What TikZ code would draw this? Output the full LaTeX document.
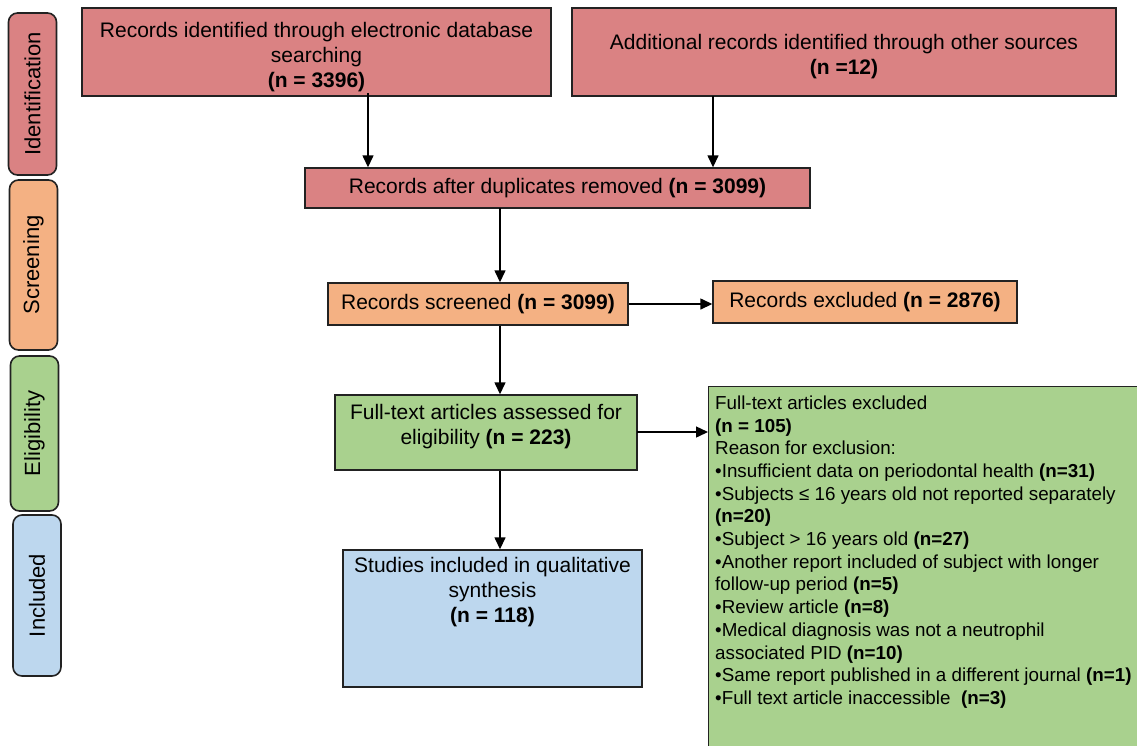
\documentclass[tikz,border=0pt]{standalone}
\usepackage{fontspec}
\setmainfont{Liberation Sans}
\usetikzlibrary{arrows.meta}
\definecolor{cred}{HTML}{DA8283}
\definecolor{corange}{HTML}{F4B183}
\definecolor{cgreen}{HTML}{A9D18E}
\definecolor{cblue}{HTML}{BDD7EE}
\definecolor{cline}{HTML}{222222}
\newcommand{\toppad}[1]{\rule{0pt}{#1}}
\newcommand{\botpad}[1]{\rule[-#1]{0pt}{#1}}
\tikzset{
  box/.style={draw=cline, line width=1.4pt, rectangle, inner sep=0pt, align=center,
    font=\fontsize{21}{25}\selectfont},
  phase/.style={draw=cline, line width=1.6pt, rounded corners=9pt, rotate=90, inner sep=0pt,
    minimum height=48pt, font=\fontsize{22}{25}\selectfont},
  arr/.style={draw=black, line width=1.4pt, -{Triangle[length=12pt,width=11pt]}},
}
\begin{document}
\begin{tikzpicture}[x=1pt,y=-1pt]
\useasboundingbox (0,0) rectangle (1137,745);
\clip (0,0) rectangle (1137,745);
\fill[white] (0,0) rectangle (1137,745);
% phase labels
\node[phase, fill=cred, minimum width=162pt] (pid) at (32.5,94) {Identification};
\node[phase, fill=corange, minimum width=170pt] (psc) at (33.5,265) {Screening};
\node[phase, fill=cgreen, minimum width=155pt] (pel) at (34.5,433.5) {Eligibility};
\node[phase, fill=cblue, minimum width=161pt] (pin) at (37,595.5) {Included};
% boxes
\node[box, fill=cred, minimum width=469pt, minimum height=88pt] (b1) at (316.5,52)
  {\toppad{24.5pt}Records identified through electronic database\\searching\\\textbf{(n = 3396)}};
\node[box, fill=cred, minimum width=544pt, minimum height=88pt] (b2) at (844,52)
  {\toppad{24.5pt}Additional records identified through other sources\\\textbf{(n =12)}};
\node[box, fill=cred, minimum width=505pt, minimum height=40pt] (b3) at (557.5,188)
  {Records after duplicates removed \textbf{(n = 3099)}};
\node[box, fill=corange, minimum width=300pt, minimum height=42pt] (b4) at (478,304)
  {Records screened \textbf{(n = 3099)}};
\node[box, fill=corange, minimum width=304pt, minimum height=42pt] (b5) at (865,302)
  {Records excluded \textbf{(n = 2876)}};
\node[box, fill=cgreen, minimum width=302pt, minimum height=75pt] (b6) at (486,432.5)
  {Full-text articles assessed for\\eligibility \textbf{(n = 223)}\botpad{15.5pt}};
\node[box, fill=cblue, minimum width=299pt, minimum height=137pt] (b7) at (492.5,618.5)
  {Studies included in qualitative\\synthesis\\\textbf{(n = 118)}\botpad{57pt}};
\node[box, fill=cgreen, anchor=north west, minimum width=440pt, minimum height=370pt] (b8) at (708,386) {};
\node[anchor=north west, inner sep=0pt, align=left, font=\fontsize{18.8}{22.7}\selectfont] (t8) at (715,395.5)
  {Full-text articles excluded\\
   \textbf{(n = 105)}\\
   Reason for exclusion:\\
   •Insufficient data on periodontal health \textbf{(n=31)}\\
   •Subjects ≤ 16 years old not reported separately\\
   \textbf{(n=20)}\\
   •Subject > 16 years old \textbf{(n=27)}\\
   •Another report included of subject with longer\\
   follow-up period \textbf{(n=5)}\\
   •Review article \textbf{(n=8)}\\
   •Medical diagnosis was not a neutrophil\\
   associated PID \textbf{(n=10)}\\
   •Same report published in a different journal \textbf{(n=1)}\\
   •Full text article inaccessible~ \textbf{(n=3)}};
% connectors
\coordinate (c1) at (368,93);
\coordinate (c2) at (713,96);
\coordinate (c3) at (500,208);
\draw[arr] (c1) -- (c1 |- b3.north);
\draw[arr] (c2) -- (c2 |- b3.north);
\draw[arr] (c3) -- (c3 |- b4.north);
\draw[arr] (c3 |- b4.south) -- (c3 |- b6.north);
\draw[arr] (c3 |- b6.south) -- (c3 |- b7.north);
\draw[arr] (b4.east) -- (b5.west |- b4.east);
\coordinate (c4) at (637,432);
\draw[arr] (c4) -- (b8.west |- c4);
\end{tikzpicture}
\end{document}
